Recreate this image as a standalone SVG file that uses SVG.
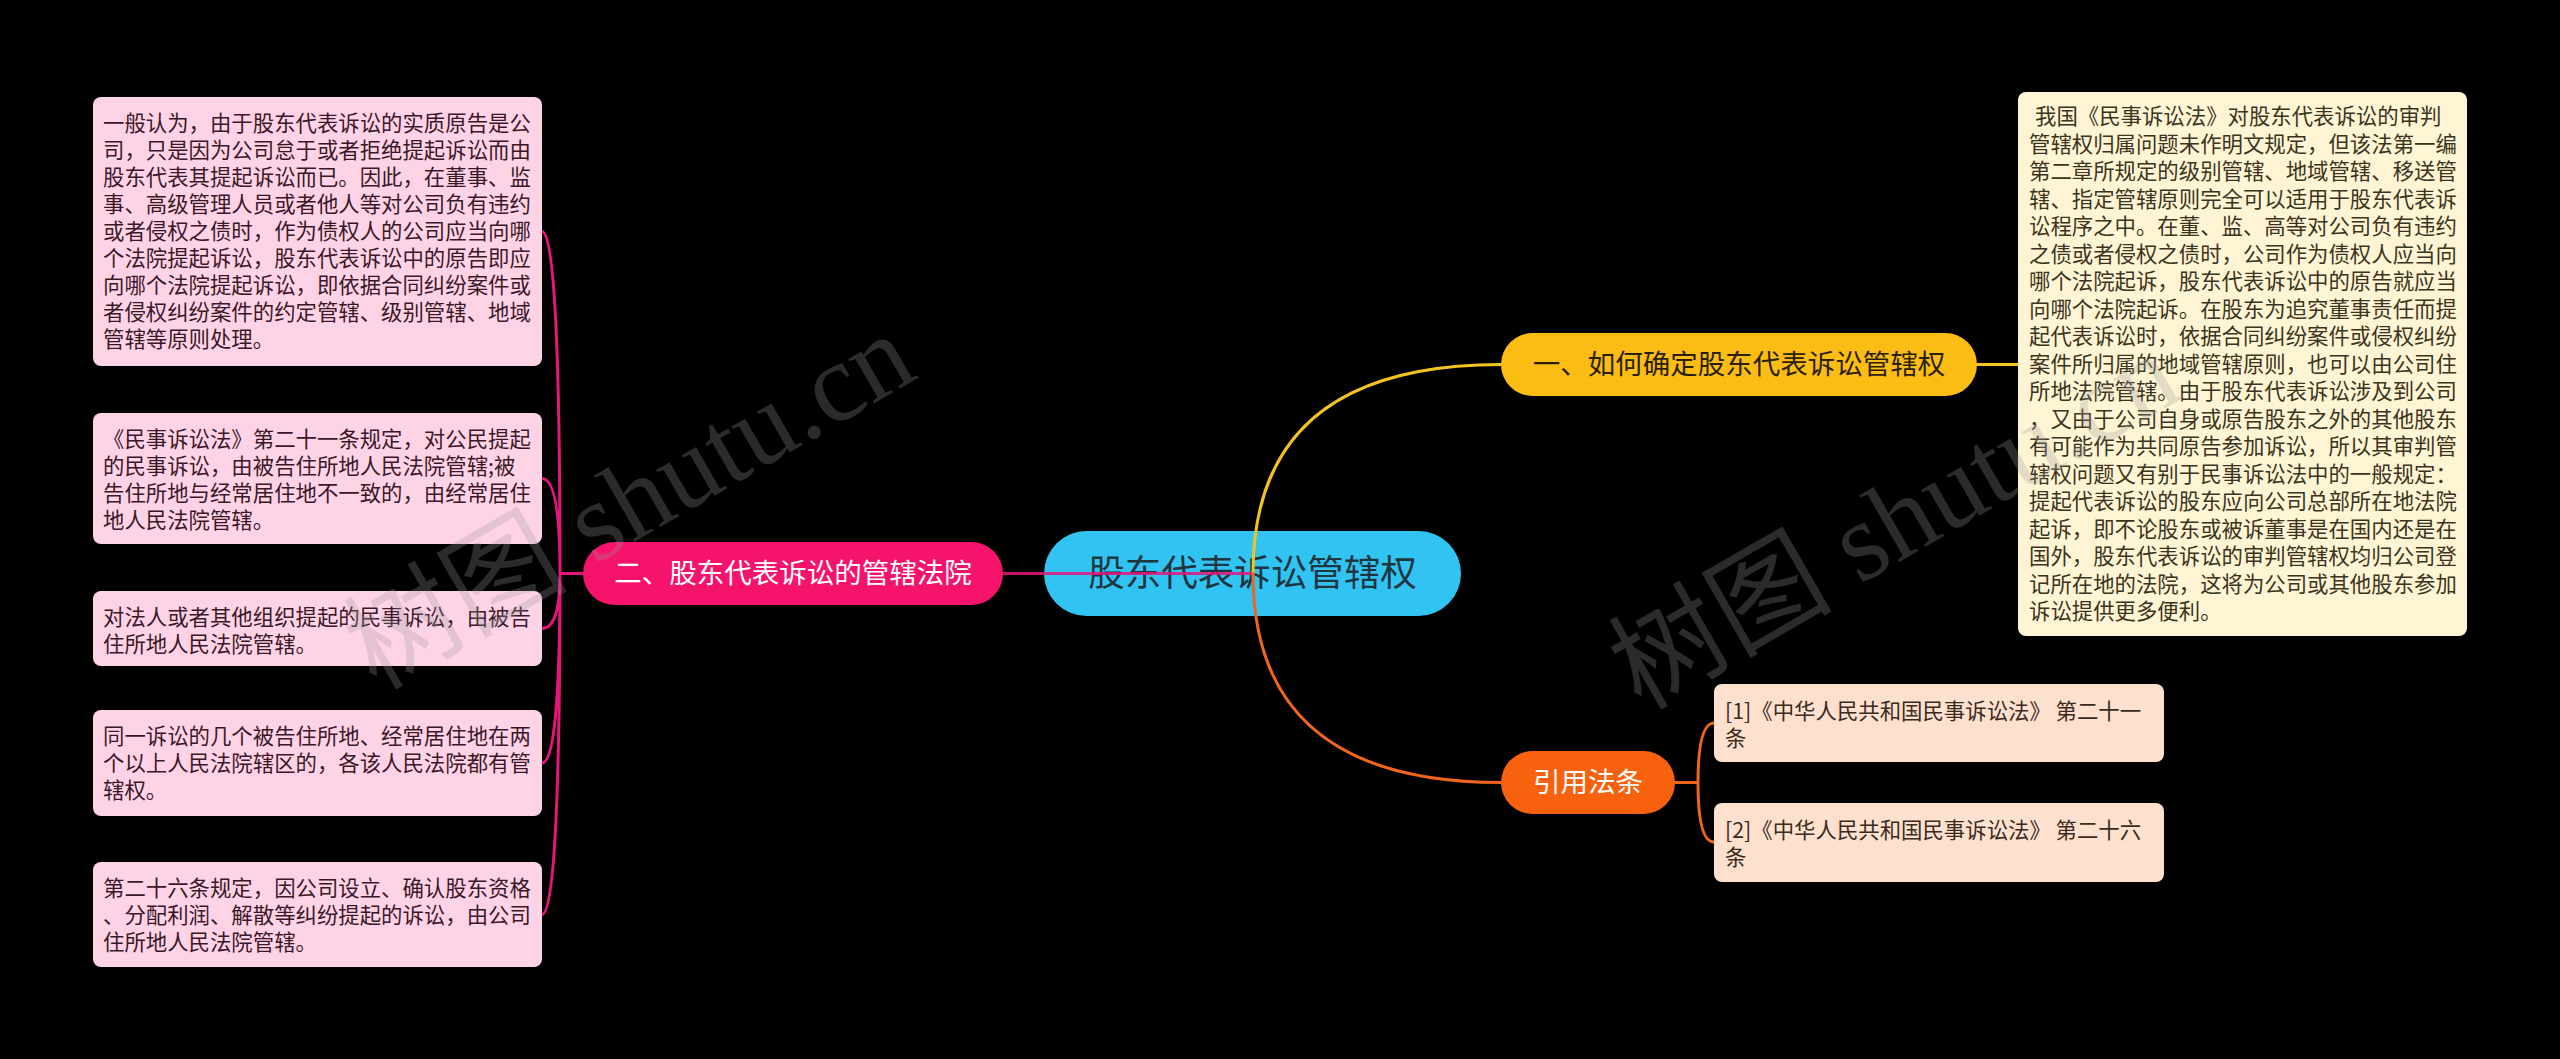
<svg xmlns="http://www.w3.org/2000/svg" width="2560" height="1059" viewBox="0 0 2560 1059">
<style>
.cjk{font-family:"Noto Sans CJK SC","Noto Sans",sans-serif}
.leaf{fill:#FFD3E6}
.leaftxt{font-size:21.4px;fill:#3a1828}
.right{fill:#FFF4D4}
.righttxt{font-size:21.4px;fill:#3a3420}
.cite{fill:#FDE0CE}
.citetxt{font-size:21.4px;fill:#3b2a20}
.l1txt{font-size:27.5px}
.conn{fill:none;stroke-width:3;stroke-linecap:round}
.wm{font-family:"Liberation Serif","Noto Sans CJK SC",serif;font-size:112px;fill:#9a9a9a;fill-opacity:0.28}
</style>
<rect x="0" y="0" width="2560" height="1059" fill="#000"/>

<g id="node-root">
<rect x="1044" y="531" width="417" height="85" rx="42.5" fill="#31C4F3"/>
<text class="cjk" x="1252.5" y="586" font-size="36.5" fill="#1f3540" text-anchor="middle">股东代表诉讼管辖权</text>
</g>

<g id="connectors">
<path class="conn" stroke="#E5157A" stroke-opacity="0.85" d="M1003 573.5 L1253 573.5"/>
<path class="conn" stroke="#E5157A" d="M583 573.5 L560 573.5 M560 573.5 Q560 231.5 542 231.5 M560 573.5 Q560 478.5 542 478.5 M560 573.5 Q560 628.5 542 628.5 M560 573.5 Q560 763 542 763 M560 573.5 Q560 914.5 542 914.5"/>
<path class="conn" stroke="#F5C320" d="M1253 573.5 Q1253 364.5 1501 364.5 M1977 364.5 L2018 364.5"/>
<path class="conn" stroke="#F0651C" d="M1253 573.5 Q1253 782.5 1501 782.5 M1675 782.5 L1698 782.5 M1698 782.5 Q1698 723 1714 723 M1698 782.5 Q1698 842 1714 842"/>
</g>

<g id="node-branch2">
<rect x="583" y="542" width="420" height="63" rx="31.5" fill="#F5136B"/>
<text class="cjk l1txt" x="793" y="583" fill="#ffffff" text-anchor="middle">二、股东代表诉讼的管辖法院</text>
</g>

<g id="node-branch1">
<rect x="1501" y="333" width="476" height="63" rx="31.5" fill="#FBBD14"/>
<text class="cjk l1txt" x="1739" y="374" fill="#2b2108" text-anchor="middle">一、如何确定股东代表诉讼管辖权</text>
</g>

<g id="node-cite">
<rect x="1501" y="751" width="174" height="63" rx="31.5" fill="#F8610E"/>
<text class="cjk l1txt" x="1588" y="792" fill="#ffffff" text-anchor="middle">引用法条</text>
</g>

<g id="leaf-1">
<rect class="leaf" x="93" y="97" width="449" height="269" rx="8"/>
<text class="cjk leaftxt">
<tspan x="103" y="131">一般认为，由于股东代表诉讼的实质原告是公</tspan>
<tspan x="103" y="158">司，只是因为公司怠于或者拒绝提起诉讼而由</tspan>
<tspan x="103" y="185">股东代表其提起诉讼而已。因此，在董事、监</tspan>
<tspan x="103" y="212">事、高级管理人员或者他人等对公司负有违约</tspan>
<tspan x="103" y="239">或者侵权之债时，作为债权人的公司应当向哪</tspan>
<tspan x="103" y="266">个法院提起诉讼，股东代表诉讼中的原告即应</tspan>
<tspan x="103" y="293">向哪个法院提起诉讼，即依据合同纠纷案件或</tspan>
<tspan x="103" y="320">者侵权纠纷案件的约定管辖、级别管辖、地域</tspan>
<tspan x="103" y="347">管辖等原则处理。</tspan>
</text>
</g>

<g id="leaf-2">
<rect class="leaf" x="93" y="413" width="449" height="131" rx="8"/>
<text class="cjk leaftxt">
<tspan x="103" y="447">《民事诉讼法》第二十一条规定，对公民提起</tspan>
<tspan x="103" y="474">的民事诉讼，由被告住所地人民法院管辖;被</tspan>
<tspan x="103" y="501">告住所地与经常居住地不一致的，由经常居住</tspan>
<tspan x="103" y="528">地人民法院管辖。</tspan>
</text>
</g>

<g id="leaf-3">
<rect class="leaf" x="93" y="591" width="449" height="75" rx="8"/>
<text class="cjk leaftxt">
<tspan x="103" y="625">对法人或者其他组织提起的民事诉讼，由被告</tspan>
<tspan x="103" y="652">住所地人民法院管辖。</tspan>
</text>
</g>

<g id="leaf-4">
<rect class="leaf" x="93" y="710" width="449" height="106" rx="8"/>
<text class="cjk leaftxt">
<tspan x="103" y="744">同一诉讼的几个被告住所地、经常居住地在两</tspan>
<tspan x="103" y="771">个以上人民法院辖区的，各该人民法院都有管</tspan>
<tspan x="103" y="798">辖权。</tspan>
</text>
</g>

<g id="leaf-5">
<rect class="leaf" x="93" y="862" width="449" height="105" rx="8"/>
<text class="cjk leaftxt">
<tspan x="103" y="896">第二十六条规定，因公司设立、确认股东资格</tspan>
<tspan x="103" y="923">、分配利润、解散等纠纷提起的诉讼，由公司</tspan>
<tspan x="103" y="950">住所地人民法院管辖。</tspan>
</text>
</g>

<g id="leaf-right">
<rect class="right" x="2018" y="92" width="449" height="544" rx="8"/>
<text class="cjk righttxt">
<tspan x="2035" y="124">我国《民事诉讼法》对股东代表诉讼的审判</tspan>
<tspan x="2029" y="151.5">管辖权归属问题未作明文规定，但该法第一编</tspan>
<tspan x="2029" y="179">第二章所规定的级别管辖、地域管辖、移送管</tspan>
<tspan x="2029" y="206.5">辖、指定管辖原则完全可以适用于股东代表诉</tspan>
<tspan x="2029" y="234">讼程序之中。在董、监、高等对公司负有违约</tspan>
<tspan x="2029" y="261.5">之债或者侵权之债时，公司作为债权人应当向</tspan>
<tspan x="2029" y="289">哪个法院起诉，股东代表诉讼中的原告就应当</tspan>
<tspan x="2029" y="316.5">向哪个法院起诉。在股东为追究董事责任而提</tspan>
<tspan x="2029" y="344">起代表诉讼时，依据合同纠纷案件或侵权纠纷</tspan>
<tspan x="2029" y="371.5">案件所归属的地域管辖原则，也可以由公司住</tspan>
<tspan x="2029" y="399">所地法院管辖。由于股东代表诉讼涉及到公司</tspan>
<tspan x="2029" y="426.5">，又由于公司自身或原告股东之外的其他股东</tspan>
<tspan x="2029" y="454">有可能作为共同原告参加诉讼，所以其审判管</tspan>
<tspan x="2029" y="481.5">辖权问题又有别于民事诉讼法中的一般规定：</tspan>
<tspan x="2029" y="509">提起代表诉讼的股东应向公司总部所在地法院</tspan>
<tspan x="2029" y="536.5">起诉，即不论股东或被诉董事是在国内还是在</tspan>
<tspan x="2029" y="564">国外，股东代表诉讼的审判管辖权均归公司登</tspan>
<tspan x="2029" y="591.5">记所在地的法院，这将为公司或其他股东参加</tspan>
<tspan x="2029" y="619">诉讼提供更多便利。</tspan>
</text>
</g>

<g id="cite-1">
<rect class="cite" x="1714" y="684" width="450" height="78" rx="8"/>
<text class="cjk citetxt">
<tspan x="1725" y="719">[1]《中华人民共和国民事诉讼法》 第二十一</tspan>
<tspan x="1725" y="746">条</tspan>
</text>
</g>

<g id="cite-2">
<rect class="cite" x="1714" y="803" width="450" height="79" rx="8"/>
<text class="cjk citetxt">
<tspan x="1725" y="838">[2]《中华人民共和国民事诉讼法》 第二十六</tspan>
<tspan x="1725" y="865">条</tspan>
</text>
</g>

<g id="watermarks">
<text class="wm" transform="translate(376,691) rotate(-30)">树图 shutu.cn</text>
<text class="wm" transform="translate(1641,711) rotate(-30)">树图 shutu.cn</text>
</g>
</svg>
